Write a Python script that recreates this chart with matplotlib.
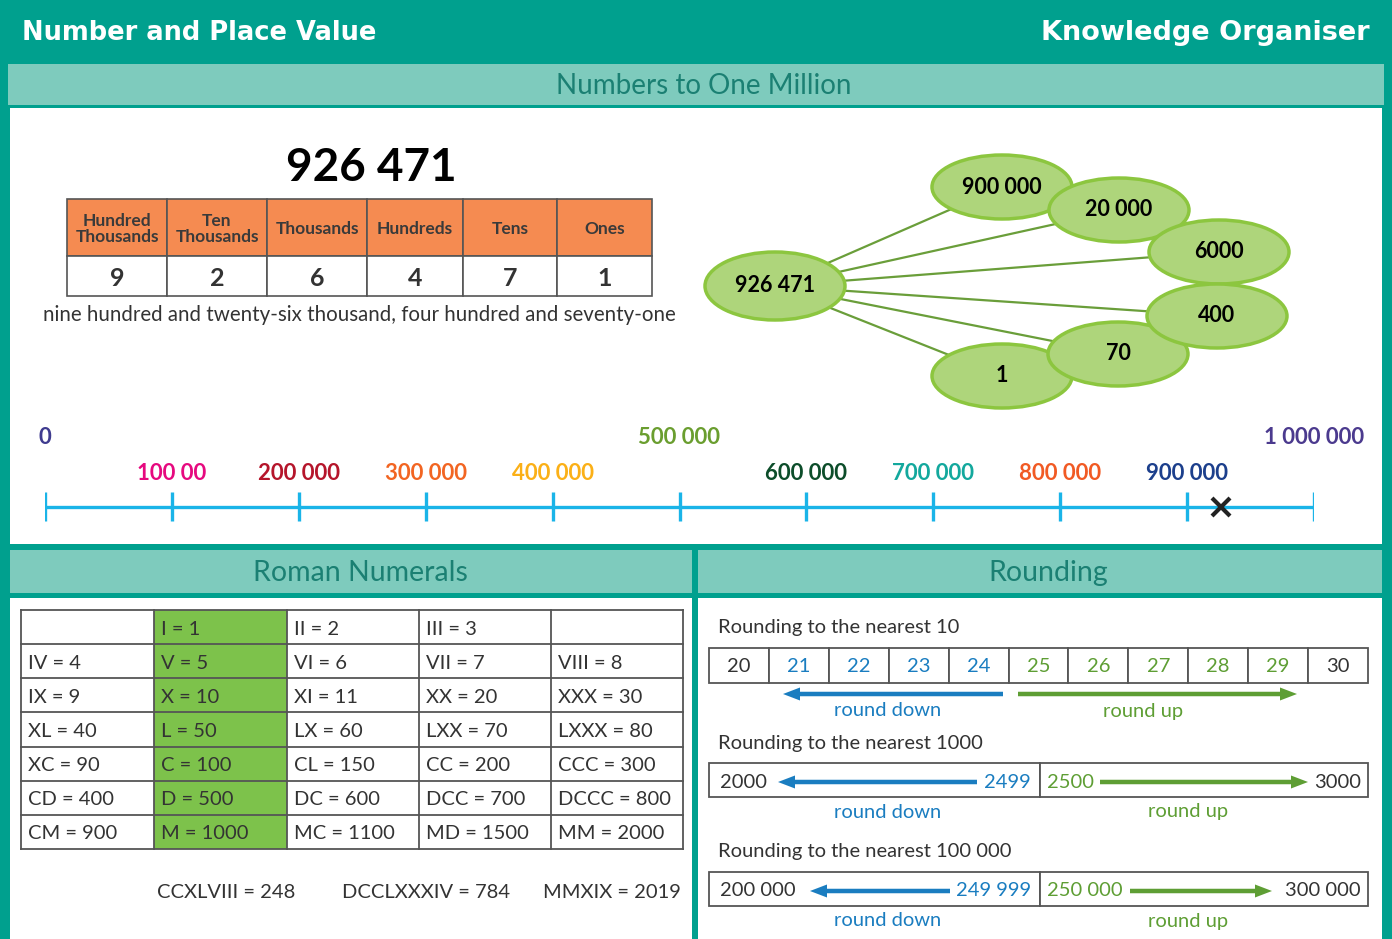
import matplotlib.pyplot as plt
from matplotlib.patches import Rectangle, Ellipse

plt.rcParams['font.family'] = ['Lato', 'DejaVu Sans']

# ---- data ----
title_left = "Number and Place Value"
title_right = "Knowledge Organiser"
section_titles = ["Numbers to One Million", "Roman Numerals", "Rounding"]

number = 926471
place_names = ["Hundred\nThousands", "Ten\nThousands", "Thousands", "Hundreds", "Tens", "Ones"]
place_values = [100000, 10000, 1000, 100, 10, 1]
digits = [9, 2, 6, 4, 7, 1]
number_words = "nine hundred and twenty-six thousand, four hundred and seventy-one"

line_ticks = [0, 100000, 200000, 300000, 400000, 500000, 600000, 700000, 800000, 900000, 1000000]
line_labels = ["0", "100 00", "200 000", "300 000", "400 000", "500 000",
               "600 000", "700 000", "800 000", "900 000", "1 000 000"]
line_colors = ["#3f3b8f", "#e6097f", "#b5152b", "#f26522", "#fbb017", "#6a9e2f",
               "#0c4d2a", "#13a89d", "#f15a24", "#1c3f8c", "#4b3a8e"]
marked_value = 926471

roman_rows = [
    ["", "I = 1", "II = 2", "III = 3", ""],
    ["IV = 4", "V = 5", "VI = 6", "VII = 7", "VIII = 8"],
    ["IX = 9", "X = 10", "XI = 11", "XX = 20", "XXX = 30"],
    ["XL = 40", "L = 50", "LX = 60", "LXX = 70", "LXXX = 80"],
    ["XC = 90", "C = 100", "CL = 150", "CC = 200", "CCC = 300"],
    ["CD = 400", "D = 500", "DC = 600", "DCC = 700", "DCCC = 800"],
    ["CM = 900", "M = 1000", "MC = 1100", "MD = 1500", "MM = 2000"],
]
roman_examples = ["CCXLVIII = 248", "DCCLXXXIV = 784", "MMXIX = 2019"]

round10_cells = [20, 21, 22, 23, 24, 25, 26, 27, 28, 29, 30]
round1000 = [2000, 2499, 2500, 3000]
round100k = [200000, 249999, 250000, 300000]

# ---- colours ----
TEAL = "#00a08e"
LIGHT_TEAL = "#7ecbbd"
HEAD_TXT = "#1b8073"
ORANGE = "#f58b51"
BUB_FILL = "#aed57b"
BUB_EDGE = "#8cc63f"
LINE_GREEN = "#6a9e3a"
BLUE_LINE = "#1ab4e8"
ROMAN_GREEN = "#7dc24b"
BLUE = "#1a7dc0"
GREEN = "#5e9e34"
DARK = "#333333"
GRID = "#555555"
FS = 14.5

W, H = 1392, 939
fig = plt.figure(figsize=(W / 100, H / 100), dpi=100, facecolor=TEAL)
ax = fig.add_axes([0, 0, 1, 1])
ax.set_xlim(0, W)
ax.set_ylim(H, 0)
ax.axis("off")


def fmt(n):
    return f"{n:,}".replace(",", " ") if n >= 10000 else str(n)


def box(x0, y0, x1, y1, **kw):
    ax.add_patch(Rectangle((x0, y0), x1 - x0, y1 - y0, **kw))


# frame
box(8, 64, 1384, 105, color=LIGHT_TEAL, lw=0)
box(10, 108, 1382, 544, color="white", lw=0)
box(10, 550, 692, 593, color=LIGHT_TEAL, lw=0)
box(698, 550, 1382, 593, color=LIGHT_TEAL, lw=0)
box(10, 598, 692, 939, color="white", lw=0)
box(698, 598, 1382, 939, color="white", lw=0)

ax.text(22, 33, title_left, color="white", fontsize=18.5, fontweight="bold", va="center",
        family="DejaVu Sans")
ax.text(1370, 33, title_right, color="white", fontsize=19.5, fontweight="bold", va="center", ha="right",
        family="DejaVu Sans")
ax.text(704, 86, section_titles[0], color=HEAD_TXT, fontsize=20, va="center", ha="center")
ax.text(360, 573, section_titles[1], color=HEAD_TXT, fontsize=20.5, va="center", ha="center")
ax.text(1048, 573, section_titles[2], color=HEAD_TXT, fontsize=20.5, va="center", ha="center")

# ---- place value table ----
ax.text(371, 168, fmt(number), fontsize=33, fontweight="bold", ha="center", va="center", color="black")
col_x = [67, 167, 267, 367, 463, 557, 652]
for i, (name, d) in enumerate(zip(place_names, digits)):
    x0, x1 = col_x[i], col_x[i + 1]
    box(x0, 199, x1, 256, facecolor=ORANGE, edgecolor=GRID, lw=1.2)
    box(x0, 256, x1, 296, facecolor="white", edgecolor=GRID, lw=1.2)
    ax.text((x0 + x1) / 2, 229, name, fontsize=12.5, fontweight="bold", ha="center", va="center",
            color="#3a3a3a", linespacing=1.05)
    ax.text((x0 + x1) / 2, 279, str(d), fontsize=18, fontweight="bold", ha="center", va="center", color=DARK)
ax.text(359, 315, number_words, fontsize=14.8, ha="center", va="center", color=DARK)

# ---- partition bubbles ----
parts = [d * p for d, p in zip(digits, place_values)]
bubble_pos = [(1002, 187), (1119, 210), (1219, 252), (1217, 316), (1118, 354), (1002, 376)]
centre = (775, 286)
for (bx, by) in bubble_pos:
    ax.plot([centre[0], bx], [centre[1], by], color=LINE_GREEN, lw=1.6, zorder=2)
ax.add_patch(Ellipse(centre, 140, 68, facecolor=BUB_FILL, edgecolor=BUB_EDGE, lw=2.5, zorder=3))
ax.text(centre[0], centre[1], fmt(number), fontsize=15.5, fontweight="bold", ha="center", va="center", zorder=10)
draw_order = [0, 1, 2, 5, 4, 3]
for k, i in enumerate(draw_order):
    bx, by = bubble_pos[i]
    ax.add_patch(Ellipse((bx, by), 140, 64, facecolor=BUB_FILL, edgecolor=BUB_EDGE, lw=2.5, zorder=4 + k))
    ax.text(bx, by, fmt(parts[i]), fontsize=15.5, fontweight="bold", ha="center", va="center", zorder=4 + k)

# ---- number line ----
nl = fig.add_axes([45 / W, 0, (1314 - 45) / W, 1])
nl.set_xlim(0, 1000000)
nl.set_ylim(H, 0)
nl.axis("off")
nl.patch.set_alpha(0)
nl.hlines(507, 0, 1000000, color=BLUE_LINE, lw=2.4)
nl.vlines(line_ticks, 492, 521, color=BLUE_LINE, lw=2.4)
for t, lab, c in zip(line_ticks, line_labels, line_colors):
    y = 437 if t in (0, 500000, 1000000) else 474
    nl.text(t, y, lab, color=c, fontsize=16, fontweight="bold", ha="center", va="center")
nl.plot([marked_value], [507], marker="x", color="#222222", ms=13, mew=3)

# ---- roman numerals ----
r_cols = [21, 154, 287, 419, 551, 683]
r_top, r_h = 610, 34.15
box(r_cols[1], r_top, r_cols[2], r_top + r_h * len(roman_rows), color=ROMAN_GREEN, lw=0)
for r, row in enumerate(roman_rows):
    yc = r_top + r_h * (r + 0.5)
    for c, txt in enumerate(row):
        ax.text(r_cols[c] + 7, yc + 2, txt, fontsize=FS, ha="left", va="center", color=DARK)
for r in range(len(roman_rows) + 1):
    ax.plot([r_cols[0], r_cols[-1]], [r_top + r_h * r] * 2, color=GRID, lw=1.3)
for x in r_cols:
    ax.plot([x, x], [r_top, r_top + r_h * len(roman_rows)], color=GRID, lw=1.3)
for x, txt in zip([157, 342, 543], roman_examples):
    ax.text(x, 893, txt, fontsize=FS, ha="left", va="center", color=DARK)

# ---- rounding ----
rx0, rx1 = 709, 1368
ax.text(718, 628, "Rounding to the nearest 10", fontsize=FS, ha="left", va="center", color=DARK)
cw = (rx1 - rx0) / len(round10_cells)
for i, v in enumerate(round10_cells):
    x0 = rx0 + i * cw
    box(x0, 648, x0 + cw, 683, facecolor="white", edgecolor=GRID, lw=1.3)
    c = DARK if v in (20, 30) else (BLUE if v < 25 else GREEN)
    ax.text(x0 + cw / 2, 667, str(v), fontsize=FS, ha="center", va="center", color=c)


def arrow(x0, x1, y, color):
    ax.arrow(x0, y, x1 - x0, 0, width=4.5, head_width=13, head_length=17,
             length_includes_head=True, color=color, lw=0)


arrow(1003, 783, 694, BLUE)
arrow(1018, 1297, 694, GREEN)
ax.text(888, 711, "round down", fontsize=FS, ha="center", va="center", color=BLUE)
ax.text(1143, 711, "round up", fontsize=FS, ha="center", va="center", color=GREEN)


def range_row(title, ty, by, vals, blue_arrow, green_arrow):
    ax.text(718, ty, title, fontsize=FS, ha="left", va="center", color=DARK)
    box(rx0, by, 1040, by + 34, facecolor="white", edgecolor=GRID, lw=1.3)
    box(1040, by, rx1, by + 34, facecolor="white", edgecolor=GRID, lw=1.3)
    yc = by + 19
    ax.text(720, yc, fmt(vals[0]), fontsize=FS, ha="left", va="center", color=DARK)
    ax.text(1031, yc, fmt(vals[1]), fontsize=FS, ha="right", va="center", color=BLUE)
    ax.text(1047, yc, fmt(vals[2]), fontsize=FS, ha="left", va="center", color=GREEN)
    ax.text(1361, yc, fmt(vals[3]), fontsize=FS, ha="right", va="center", color=DARK)
    arrow(blue_arrow[0], blue_arrow[1], yc, BLUE)
    arrow(green_arrow[0], green_arrow[1], yc, GREEN)
    ax.text(888, by + 49, "round down", fontsize=FS, ha="center", va="center", color=BLUE)
    ax.text(1188, by + 49, "round up", fontsize=FS, ha="center", va="center", color=GREEN)


range_row("Rounding to the nearest 1000", 744, 763, round1000, (977, 778), (1100, 1308))
range_row("Rounding to the nearest 100 000", 852, 872, round100k, (950, 810), (1130, 1272))

fig.savefig("out.png", dpi=100, facecolor=TEAL)
